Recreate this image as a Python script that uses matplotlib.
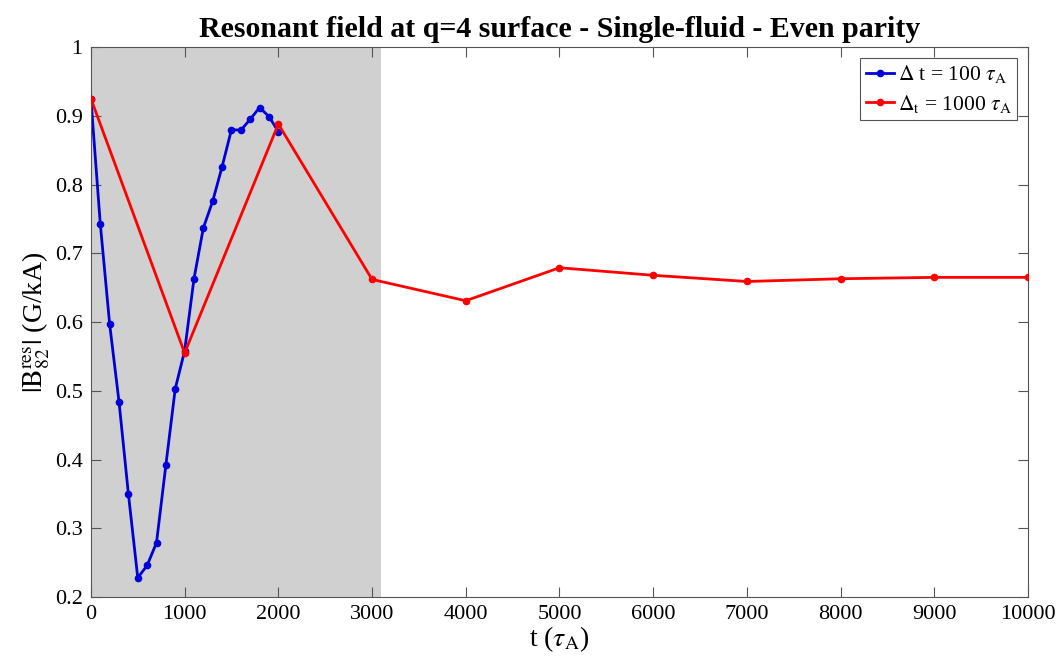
import matplotlib
matplotlib.use("Agg")
import matplotlib.pyplot as plt
from matplotlib.ticker import FuncFormatter

# Data
t_fine = [0, 100, 200, 300, 400, 500, 600, 700, 800, 900, 1000,
          1100, 1200, 1300, 1400, 1500, 1600, 1700, 1800, 1900, 2000]
b_fine = [0.925, 0.743, 0.597, 0.484, 0.350, 0.228, 0.246, 0.279, 0.392, 0.503, 0.558,
          0.663, 0.737, 0.776, 0.826, 0.880, 0.879, 0.895, 0.912, 0.899, 0.877]

t_coarse = [0, 1000, 2000, 3000, 4000, 5000, 6000, 7000, 8000, 9000, 10000]
b_coarse = [0.925, 0.555, 0.888, 0.662, 0.631, 0.679, 0.668, 0.659, 0.663, 0.665, 0.665]

shade_span = (0, 3100)

plt.rcParams['font.family'] = ['Liberation Serif', 'DejaVu Serif']
plt.rcParams['mathtext.fontset'] = 'stix'

fig = plt.figure(figsize=(10.57, 6.63), dpi=100)
ax = fig.add_axes([0.086, 0.0995, 0.8866, 0.8295])

ax.axvspan(*shade_span, color='#d0d0d0', lw=0, zorder=0)
ax.plot(t_fine, b_fine, '-o', color='#0000d8', lw=2, ms=4.5, zorder=2,
        label=r'$\Delta$ t = 100 $\tau_{\mathrm{A}}$')
ax.plot(t_coarse, b_coarse, '-o', color='#ff0000', lw=2, ms=4.5, zorder=3,
        label=r'$\Delta_{\mathrm{t}}$ = 1000 $\tau_{\mathrm{A}}$')

ax.set_xlim(0, 10000)
ax.set_ylim(0.2, 1.0)
ax.set_xticks(range(0, 10001, 1000))
ax.set_yticks([0.2, 0.3, 0.4, 0.5, 0.6, 0.7, 0.8, 0.9, 1.0])
ax.yaxis.set_major_formatter(FuncFormatter(lambda v, p: f"{v:g}"))
ax.tick_params(direction='in', top=True, right=True, labelsize=16, length=7,
               color='#555555', width=0.8, pad=6)
for s in ax.spines.values():
    s.set_color('#555555')
    s.set_linewidth(0.8)

ax.set_xlabel(r't ($\tau_{\mathrm{A}}$)', fontsize=20, labelpad=0)
ax.set_ylabel(r'$|\mathrm{B}_{82}^{\mathrm{res}}|$ (G/kA)', fontsize=20, labelpad=2)
ax.set_title('Resonant field at q=4 surface - Single-fluid - Even parity',
             fontsize=21.5, fontweight='bold', pad=7)

leg = ax.legend(loc='upper right', fontsize=15.5, fancybox=False, framealpha=1,
                edgecolor='#555555', handlelength=1.3, handletextpad=0.2,
                borderpad=0.25, labelspacing=0.35, borderaxespad=0.5)
leg.get_frame().set_linewidth(0.8)

fig.savefig('out.png', dpi=100)
